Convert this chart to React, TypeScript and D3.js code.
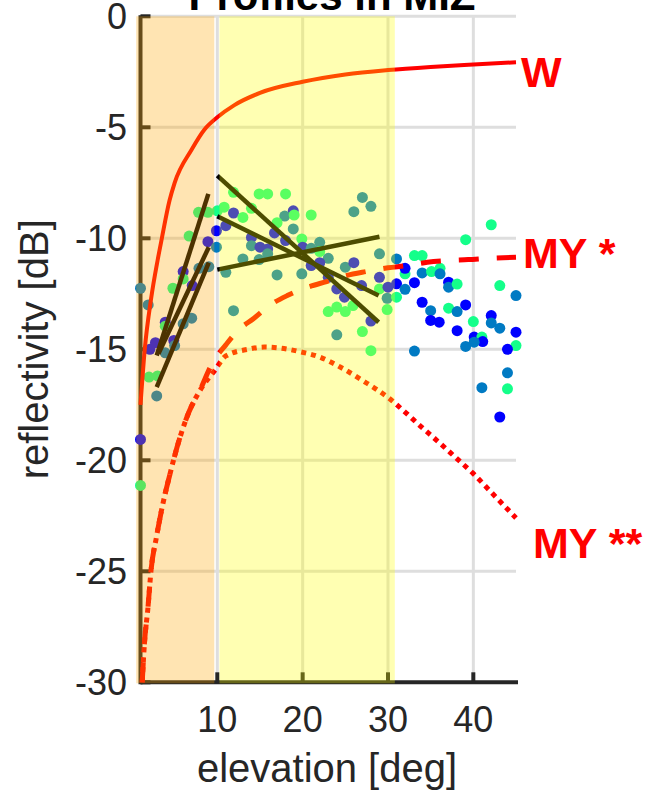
import React from 'react';
import * as d3 from 'd3';

// ---------- data ----------
const X_TICKS = [10, 20, 30, 40];
const Y_TICKS = [-30, -25, -20, -15, -10, -5, 0];

// model W (solid)
const W_ELEV = [1, 1.5, 2.25, 3, 3.5, 4.4, 5, 7, 8.5, 10, 12, 15, 20, 25, 30, 35, 40, 45];
const W_DB = [-17.5, -15, -12.7, -11, -10, -8.3, -7.5, -6.0, -5.1, -4.55, -4.0, -3.45, -2.95, -2.62, -2.42, -2.28, -2.17, -2.07];

// model MY * (dashed)
const MY1_ELEV = [1.2, 1.47, 1.86, 2.25, 2.85, 3.6, 4.4, 5.6, 6.7, 7.9, 9.45, 11, 12.4, 14.3, 16.1, 18.2, 20.6, 22.8, 25.1, 27.4, 30, 32.2, 34.6, 37, 39.4, 41.8, 45];
const MY1_DB = [-30, -28.2, -26.7, -24.9, -23.5, -22.0, -20.7, -19.0, -17.8, -16.9, -15.6, -14.8, -14.16, -13.6, -13.03, -12.58, -12.2, -11.95, -11.68, -11.5, -11.33, -11.23, -11.08, -11.0, -10.96, -10.9, -10.85];

// model MY ** (dotted)
const MY2_ELEV = [1.2, 1.47, 1.86, 2.25, 2.85, 3.6, 4.4, 5.6, 6.7, 7.9, 9.7, 11, 13.6, 15.5, 17.5, 19.6, 22, 24.4, 27, 30.2, 32, 33.8, 36, 38, 40, 42, 45];
const MY2_DB = [-30, -28.2, -26.7, -24.9, -23.5, -22.0, -20.7, -19.0, -17.8, -16.9, -15.95, -15.3, -15.0, -14.9, -14.95, -15.1, -15.35, -15.8, -16.4, -17.23, -17.83, -18.46, -19.2, -19.9, -20.6, -21.4, -22.6];

// fitted profile lines
const FIT_E0 = [2.9, 3.1, 2.9, 10, 10, 10];
const FIT_R0 = [-15.28, -15.2, -16.7, -7.18, -9.01, -11.41];
const FIT_E1 = [8.95, 9.0, 9.0, 28.9, 28.9, 29.0];
const FIT_R1 = [-8.0, -10.4, -11.1, -13.78, -12.58, -9.93];

// observations: elevation, reflectivity, group (0 blue, 1 steel, 2 green)
const OBS_ELEV = [
  1.0, 1.9, 1.0, 1.0, 6.7, 8.9, 9.9, 9.9, 7.8, 8.9, 10.0, 7.85, 9.0, 6.0, 6.0, 7.06, 4.8, 7.0, 6.0, 3.9, 3.9, 4.9, 5.0, 2.75, 2.1, 3.9, 2.0, 3.0, 2.9,
  10.8, 11.9, 13.0, 11.0, 11.9, 14.0, 14.9, 15.9, 18.0, 18.9, 17.9, 19.0, 17.0, 18.9, 16.7, 14.0, 14.0, 15.0, 15.9, 15.9, 18.0, 19.9, 13.0, 14.9, 11.0, 17.0, 19.9, 11.9,
  27.0, 26.0, 28.0, 21.0, 22.0, 22.0, 20.0, 21.0, 23.0, 21.0, 22.0, 25.0, 26.0, 29.0, 23.0, 24.0, 24.9, 26.9, 29.0, 29.0, 30.0, 29.9, 29.9, 23.0, 24.0, 25.0, 25.9, 28.0, 27.0, 24.0, 28.0,
  31.0, 31.0, 31.0, 42.1, 39.1, 33.1, 34.0, 32.0, 34.0, 35.1, 36.1, 36.1, 33.1, 32.0, 37.1, 37.1, 38.1, 43.1, 45.0, 34.0, 35.0, 39.1, 37.1, 38.1, 35.0, 36.0, 42.1, 42.1, 40.0, 43.1, 38.1, 40.1, 41.0, 41.1, 40.1, 39.1, 45.0, 45.0, 44.0, 33.1, 44.0, 41.0, 44.0, 43.1, 32.0,
];
const OBS_DB = [
  -12.25, -13.0, -19.06, -21.13, -9.9, -10.15, -9.66, -10.4, -8.83, -8.83, -8.76, -11.35, -11.28, -11.5, -11.83, -12.13, -12.25, -13.6, -13.85, -13.78, -13.96, -14.6, -14.83, -14.7, -15.0, -15.16, -16.25, -16.2, -17.1,
  -8.6, -8.86, -9.06, -9.43, -7.93, -8.65, -8.0, -8.0, -8.0, -8.76, -9.0, -8.95, -9.3, -9.58, -9.76, -9.96, -10.33, -10.4, -10.48, -10.7, -10.1, -10.03, -10.93, -10.96, -11.53, -11.65, -11.6, -13.26,
  -8.16, -8.8, -8.56, -8.95, -10.18, -10.6, -10.4, -10.45, -10.9, -11.23, -11.1, -11.3, -11.1, -10.7, -11.76, -12.28, -12.65, -12.13, -11.76, -12.28, -12.2, -12.7, -13.21, -13.3, -13.1, -13.3, -13.03, -13.73, -14.2, -14.35, -15.06,
  -10.93, -12.05, -12.65, -9.39, -10.06, -10.78, -10.78, -11.6, -11.56, -11.5, -11.35, -11.6, -12.0, -12.3, -11.98, -12.2, -12.06, -12.13, -12.58, -12.88, -13.26, -13.0, -13.15, -13.3, -13.7, -13.78, -13.48, -13.81, -13.75, -14.05, -14.16, -14.45, -14.45, -14.65, -14.68, -14.87, -14.23, -14.83, -15.0, -15.08, -16.06, -16.73, -16.78, -18.05, -11.35,
];
const OBS_GROUP = [
  1, 1, 0, 2, 2, 0, 0, 1, 2, 2, 2, 1, 1, 0, 2, 0, 2, 1, 1, 0, 2, 0, 1, 0, 0, 1, 2, 2, 1,
  2, 0, 2, 0, 2, 2, 2, 2, 2, 0, 1, 2, 2, 1, 0, 0, 1, 0, 0, 1, 0, 2, 1, 1, 1, 1, 1, 1,
  1, 1, 1, 2, 1, 2, 0, 1, 1, 0, 0, 1, 0, 1, 0, 0, 0, 0, 0, 2, 0, 1, 2, 2, 2, 2, 2, 0, 2, 1, 2,
  1, 0, 2, 2, 2, 2, 2, 2, 1, 2, 2, 1, 0, 1, 0, 1, 2, 2, 1, 0, 1, 0, 2, 1, 0, 0, 0, 1, 2, 1, 0, 0, 2, 0, 1, 1, 0, 2, 0, 1, 1, 1, 2, 0, 0,
];
const GROUP_COLORS = ['#0000ff', '#007ac3', '#14ff8a'];

const BANDS = [
  { from: 0.5, to: 9.65, color: '#ffa500' },
  { from: 10.25, to: 30.8, color: '#ffff00' },
];

const FONT = "'Liberation Sans', Arial, Helvetica, sans-serif";
const AX = '#262626';

export default function App() {
  const W = 660, H = 795;
  const x = d3.scaleLinear().domain([1, 45]).range([140.5, 516]);
  const y = d3.scaleLinear().domain([-30, 0]).range([682.3, 16.3]);

  const line = d3.line<[number, number]>().x(d => x(d[0])).y(d => y(d[1])).curve(d3.curveMonotoneX);
  const wPath = line(W_ELEV.map((e, i) => [e, W_DB[i]]))!;
  const my1Path = line(MY1_ELEV.map((e, i) => [e, MY1_DB[i]]))!;
  const my2Path = line(MY2_ELEV.map((e, i) => [e, MY2_DB[i]]))!;

  const x0 = x(1), x1 = x(45), yTop = y(0), yBot = y(-30);

  return (
    <svg width={W} height={H} style={{ position: 'absolute', left: 0, top: 0, background: '#fff' }} fontFamily={FONT}>
      <rect x={0} y={0} width={W} height={H} fill="#ffffff" />
      {/* grid */}
      {X_TICKS.map(t => (
        <line key={'gx' + t} x1={x(t)} x2={x(t)} y1={yTop} y2={yBot} stroke="#dedede" strokeWidth={3} />
      ))}
      {Y_TICKS.filter(t => t > -30).map(t => (
        <line key={'gy' + t} x1={x0} x2={x1} y1={y(t)} y2={y(t)} stroke="#dedede" strokeWidth={3} />
      ))}
      {/* axes */}
      <line x1={x0} x2={x1 + 2} y1={yBot} y2={yBot} stroke={AX} strokeWidth={4} />
      <line x1={x0} x2={x0} y1={yTop - 1} y2={yBot + 2} stroke={AX} strokeWidth={4} />
      {Y_TICKS.map(t => (
        <line key={'ty' + t} x1={x0} x2={x0 + 10} y1={y(t)} y2={y(t)} stroke={AX} strokeWidth={4} />
      ))}
      {X_TICKS.map(t => (
        <line key={'tx' + t} x1={x(t)} x2={x(t)} y1={yBot} y2={yBot - 10} stroke={AX} strokeWidth={4} />
      ))}
      {/* observations */}
      {OBS_ELEV.map((e, i) => (
        <circle key={'o' + i} cx={x(e)} cy={y(OBS_DB[i])} r={5.5} fill={GROUP_COLORS[OBS_GROUP[i]]} />
      ))}
      {/* models */}
      <path d={wPath} fill="none" stroke="#ff0000" strokeWidth={4} />
      <path d={my2Path} fill="none" stroke="#ff0000" strokeWidth={5} strokeDasharray="5 5" />
      <path d={my1Path} fill="none" stroke="#ff0000" strokeWidth={5} strokeDasharray="20 18" />
      {/* fitted lines */}
      {FIT_E0.map((e, i) => (
        <line key={'f' + i} x1={x(e)} y1={y(FIT_R0[i])} x2={x(FIT_E1[i])} y2={y(FIT_R1[i])} stroke="#000" strokeWidth={4.5} />
      ))}
      {/* shaded bands */}
      {BANDS.map((b, i) => (
        <rect key={'b' + i} x={x(b.from)} width={x(b.to) - x(b.from)} y={yTop} height={yBot - yTop + 1} fill={b.color} fillOpacity={0.3} />
      ))}
      {/* tick labels */}
      {Y_TICKS.map(t => (
        <text key={'ly' + t} x={127} y={y(t) + 13} textAnchor="end" fontSize={36} fill={AX}>{t}</text>
      ))}
      {X_TICKS.map(t => (
        <text key={'lx' + t} x={x(t)} y={732} textAnchor="middle" fontSize={36} fill={AX}>{t}</text>
      ))}
      {/* axis labels */}
      <text x={327} y={782} textAnchor="middle" fontSize={40} fill={AX}>elevation [deg]</text>
      <text transform={`translate(48,${(yTop + yBot) / 2}) rotate(-90)`} textAnchor="middle" fontSize={40} fill={AX}>reflectivity [dB]</text>
      {/* title */}
      <text x={332} y={10} textAnchor="middle" fontSize={42} fontWeight="bold" fill="#000">Profiles in MIZ</text>
      {/* model labels */}
      <text x={521} y={87} fontSize={43} fontWeight="bold" fill="#ff0000">W</text>
      <text x={523} y={268} fontSize={43} fontWeight="bold" fill="#ff0000">MY *</text>
      <text x={533} y={558} fontSize={43} fontWeight="bold" fill="#ff0000">MY **</text>
    </svg>
  );
}
